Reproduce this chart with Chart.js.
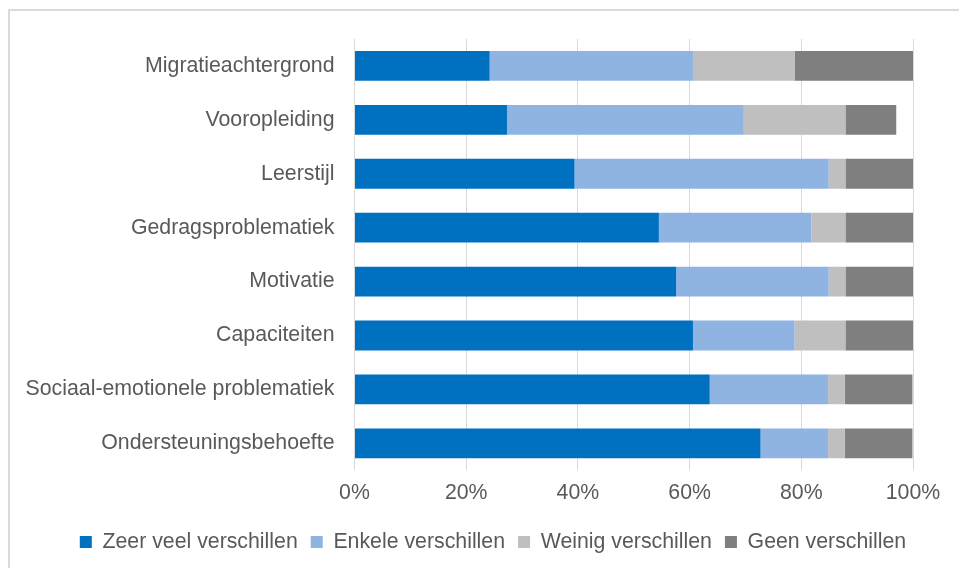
<!DOCTYPE html>
<html>
<head>
<meta charset="utf-8">
<script src="https://cdn.jsdelivr.net/npm/chart.js@4/dist/chart.umd.min.js"></script>
<style>
  html, body { margin: 0; padding: 0; background: #ffffff; }
  #wrap { position: relative; width: 959px; height: 568px; overflow: hidden; }
  #frame { position: absolute; left: 8px; top: 9px; width: 1000px; height: 600px;
           border-left: 2px solid #dadada; border-top: 2px solid #dadada; box-sizing: border-box; }
  canvas { position: absolute; left: 0; top: 0; }
</style>
</head>
<body>
<div id="wrap">
  <div id="frame"></div>
  <canvas id="c" width="959" height="568"></canvas>
</div>
<script>
const categories = [
  "Migratieachtergrond",
  "Vooropleiding",
  "Leerstijl",
  "Gedragsproblematiek",
  "Motivatie",
  "Capaciteiten",
  "Sociaal-emotionele problematiek",
  "Ondersteuningsbehoefte"
];
const zeerVeel = [24.2, 27.3, 39.4, 54.5, 57.6, 60.6, 63.6, 72.7];
const enkele   = [36.4, 42.4, 45.5, 27.3, 27.3, 18.2, 21.2, 12.1];
const weinig   = [18.2, 18.2, 3.0, 6.1, 3.0, 9.1, 3.0, 3.0];
const geen     = [21.2, 9.1, 12.1, 12.1, 12.1, 12.1, 12.1, 12.1];
const seriesNames = ["Zeer veel verschillen", "Enkele verschillen", "Weinig verschillen", "Geen verschillen"];
const xTicks = [0, 20, 40, 60, 80, 100];

const colors = ["#0070C0", "#8FB4E2", "#BFBFBF", "#7F7F7F"];
const font = { family: "'Liberation Sans', Arial, sans-serif", size: 21.3 };
const textColor = "#595959";

const data = {
  labels: categories,
  datasets: [zeerVeel, enkele, weinig, geen].map((vals, i) => ({
    label: seriesNames[i],
    data: vals,
    backgroundColor: colors[i],
    borderWidth: 0,
    categoryPercentage: 1,
    barPercentage: 0.553
  }))
};

// move the legend box sideways so that it sits where the reference has it
const legendShift = {
  id: "legendShift",
  afterLayout(chart) {
    if (chart.legend) {
      chart.legend.left += 36.5;
      chart.legend.right += 36.5;
    }
  }
};

new Chart(document.getElementById("c"), {
  type: "bar",
  data,
  plugins: [legendShift],
  options: {
    indexAxis: "y",
    responsive: false,
    animation: false,
    layout: { padding: { left: 0, right: 46, top: 39, bottom: 5.4 } },
    plugins: {
      legend: {
        position: "bottom",
        labels: {
          font,
          color: textColor,
          boxWidth: 12,
          boxHeight: 12,
          padding: 13
        }
      },
      tooltip: { enabled: false }
    },
    scales: {
      x: {
        stacked: true,
        min: 0,
        max: 100,
        afterBuildTicks: s => { s.ticks = xTicks.map(v => ({ value: v })); },
        ticks: { font, color: textColor, padding: 10, callback: v => v + "%" },
        grid: { color: "#D9D9D9", lineWidth: 1, drawTicks: false, tickLength: 0 },
        border: { display: false },
        afterFit: s => { s.height = 48; }
      },
      y: {
        stacked: true,
        ticks: { font, color: textColor, padding: 20 },
        grid: { display: false, drawTicks: false, tickLength: 0 },
        border: { display: false },
        afterFit: s => { s.width = 354.5; }
      }
    }
  }
});
</script>
</body>
</html>
